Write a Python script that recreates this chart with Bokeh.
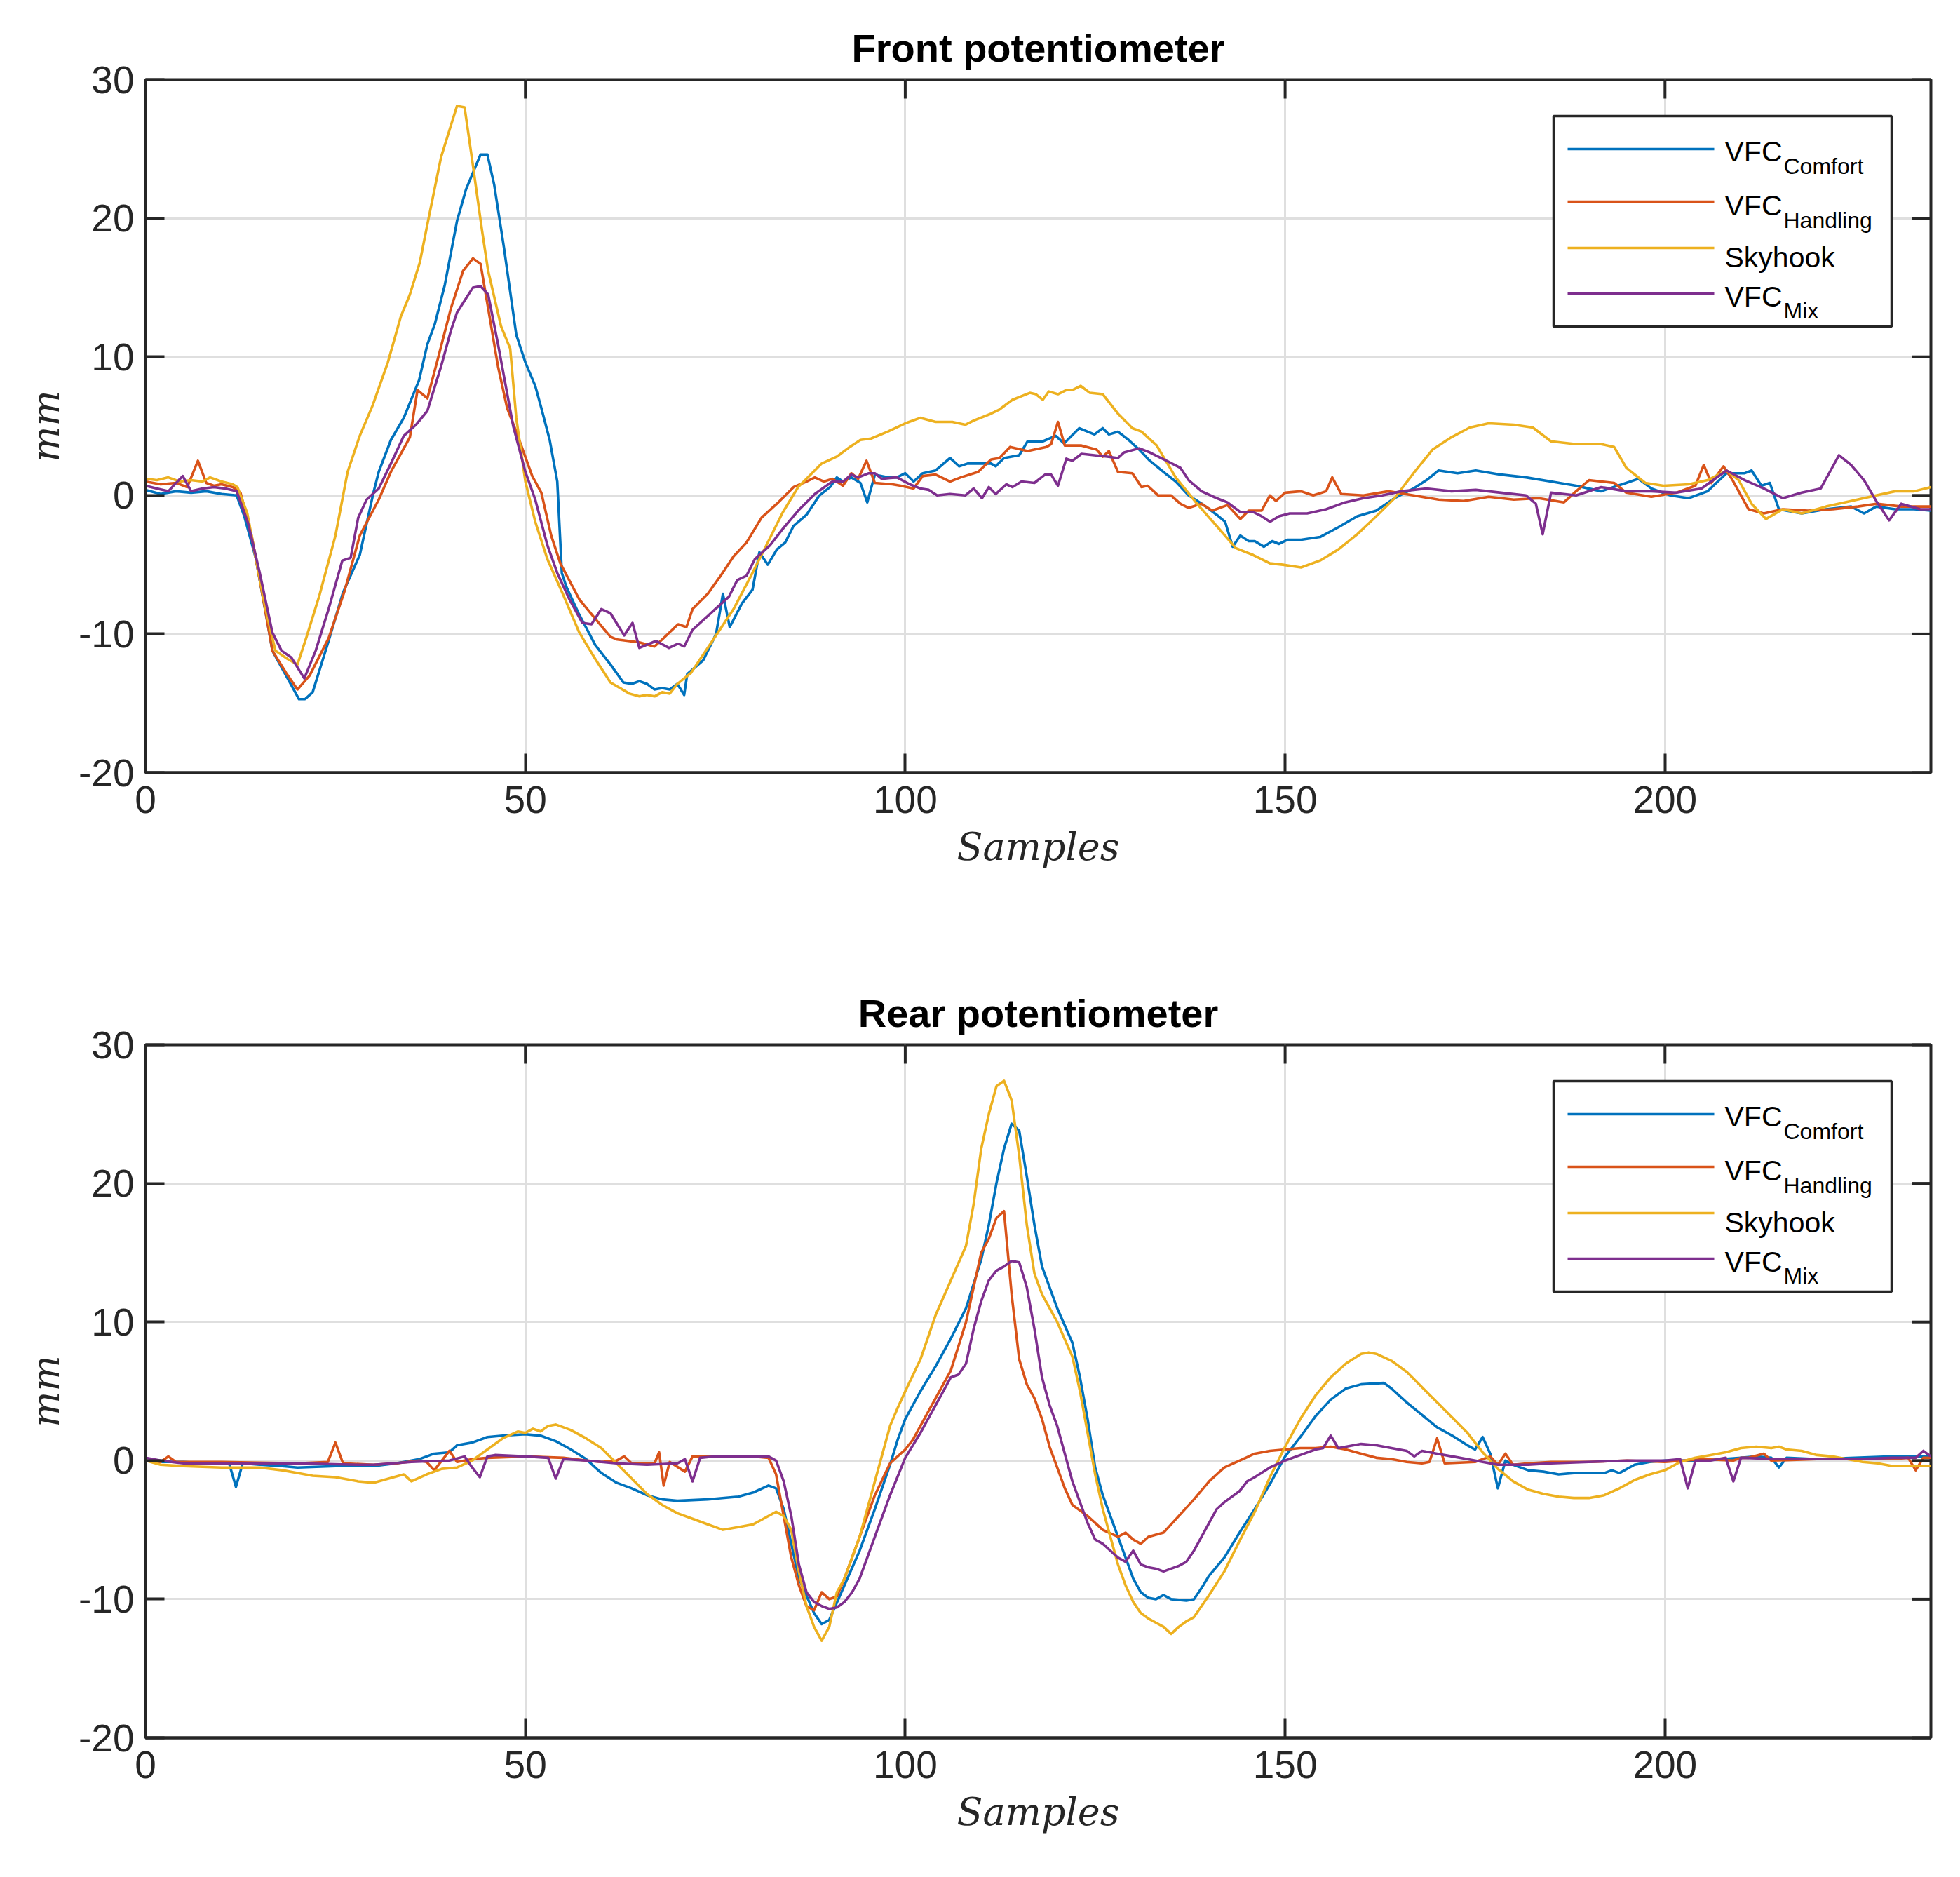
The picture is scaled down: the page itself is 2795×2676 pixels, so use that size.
from bokeh.plotting import figure
from bokeh.models import Range1d, FixedTicker, ColumnDataSource
from bokeh.layouts import column
from bokeh.embed import file_html
from bokeh.resources import INLINE
from bokeh.core.properties import value

# ---------------- data ----------------
series_names = ["VFC Comfort", "VFC Handling", "Skyhook", "VFC Mix"]
x_ticks = [0, 50, 100, 150, 200]
y_ticks = [-20, -10, 0, 10, 20, 30]

# Front potentiometer
front_comfort_x = [0, 2, 4, 6, 8, 10, 12, 13, 14.5, 16, 16.7, 18, 19.5, 20.2, 21, 22, 24.1, 26, 28.2, 30, 30.7, 32.3, 34, 36, 37.1, 38.1, 39.4, 41, 42.2, 44.1, 45, 45.9, 47.2, 48.8, 50, 51.3, 52.1, 53.2, 54.2, 54.8, 55.4, 57, 59.2, 61.2, 62.9, 64, 65, 66, 67, 68, 69, 70, 70.9, 71.3, 73.4, 75.1, 76, 76.9, 78.5, 79.9, 80.8, 81.9, 83.1, 84.2, 85.3, 87, 88.7, 90.1, 91, 91.8, 92.9, 94.1, 95, 96, 97.7, 98.9, 100, 101.1, 102.3, 104, 105.9, 107.1, 108.2, 111.3, 111.9, 113, 115, 116.1, 118.1, 119.8, 120.9, 122.9, 124.9, 126, 126.8, 128, 129.4, 130.8, 132.2, 134.2, 135.6, 137.3, 139.3, 141, 142.1, 143.1, 144.1, 145.2, 146, 147.2, 148.3, 149.2, 150.3, 152.1, 154.6, 157, 159.5, 162, 164.4, 166.9, 168.6, 170.2, 172.7, 175.1, 178.4, 181.7, 185, 188.3, 191.6, 194.9, 196.5, 198.2, 200.7, 203.1, 205.6, 208.1, 210.5, 211.4, 212.7, 213.8, 215, 218, 221.2, 224.5, 226.2, 227.8, 230.3, 232.8, 235]
front_comfort_y = [0.4, 0.1, 0.3, 0.2, 0.3, 0.1, 0.0, -1.5, -4.5, -9.0, -11.2, -12.5, -14.0, -14.7, -14.7, -14.2, -10.5, -7.0, -4.3, 0.2, 1.7, 4.0, 5.6, 8.3, 10.9, 12.4, 15.2, 19.8, 22.1, 24.6, 24.6, 22.4, 17.8, 11.6, 9.6, 7.9, 6.3, 4.0, 1.0, -5.6, -6.6, -8.5, -10.8, -12.2, -13.5, -13.6, -13.4, -13.6, -14.0, -13.9, -14.0, -13.6, -14.4, -12.9, -11.9, -10.0, -7.1, -9.5, -7.8, -6.8, -4.1, -5.0, -3.9, -3.4, -2.2, -1.4, 0.0, 0.6, 1.3, 1.0, 1.3, 0.9, -0.5, 1.5, 1.3, 1.3, 1.6, 1.0, 1.6, 1.8, 2.7, 2.1, 2.3, 2.3, 2.1, 2.7, 2.9, 3.9, 3.9, 4.3, 3.75, 4.85, 4.4, 4.85, 4.4, 4.6, 4.0, 3.3, 2.5, 1.6, 1.0, 0.0, -0.7, -1.4, -1.9, -3.7, -2.9, -3.3, -3.3, -3.7, -3.3, -3.5, -3.2, -3.2, -3.0, -2.3, -1.5, -1.1, -0.2, 0.5, 1.1, 1.8, 1.6, 1.8, 1.5, 1.3, 1.0, 0.7, 0.3, 0.9, 1.2, 0.5, 0.0, -0.2, 0.3, 1.6, 1.6, 1.8, 0.7, 0.9, -1.0, -1.3, -1.0, -0.8, -1.3, -0.8, -1.0, -1.0, -1.1]

front_handling_x = [0, 2, 4, 5.5, 6.9, 8, 9, 10, 11.5, 12.5, 14, 15.5, 16.7, 18.5, 20, 21.6, 24.1, 26.2, 28.2, 30.7, 32.3, 34.8, 35.8, 37.1, 38.5, 40.2, 41.8, 43.1, 44.1, 45.1, 46.4, 47.6, 48.8, 50.9, 52.1, 53.4, 54.6, 57.1, 59.2, 61.2, 62.1, 65, 67, 67.8, 70.1, 71.2, 72, 74, 75.7, 77.4, 79.1, 81.1, 83.1, 85.3, 87, 88.1, 89.3, 90.4, 91.8, 92.9, 93.8, 94.9, 96, 98.3, 99.4, 101.1, 102.3, 104, 105.9, 107.3, 109.6, 111.3, 112.4, 113.8, 116.1, 118.6, 119.2, 120.1, 121, 123.2, 125.2, 126, 126.8, 128, 129.9, 131.1, 131.9, 133.3, 135, 136.2, 137.3, 139, 140.4, 142.4, 144.1, 145.2, 146.9, 148, 148.8, 150, 152.1, 153.7, 155.4, 156.2, 157.4, 160.3, 163.6, 166.9, 170.2, 173.5, 176.8, 180.1, 183.4, 186.7, 188.3, 190, 193.3, 194.9, 198.2, 201.5, 204, 205.1, 206.1, 207.7, 208.9, 211, 213, 215.5, 218.8, 222.1, 225.4, 227.8, 231.1, 235]
front_handling_y = [1.0, 0.8, 0.9, 0.6, 2.5, 0.9, 0.7, 0.8, 0.6, 0.2, -3.0, -7.5, -11.2, -12.8, -14.0, -13.0, -10.3, -6.9, -2.9, -0.3, 1.7, 4.2, 7.6, 7.0, 9.9, 13.5, 16.2, 17.1, 16.7, 13.5, 9.3, 6.3, 4.6, 1.4, 0.2, -2.9, -4.9, -7.5, -8.9, -10.2, -10.4, -10.6, -10.9, -10.5, -9.3, -9.5, -8.2, -7.1, -5.8, -4.4, -3.4, -1.6, -0.6, 0.6, 1.0, 1.3, 1.0, 1.2, 0.7, 1.6, 1.2, 2.5, 0.9, 0.8, 0.7, 0.5, 1.4, 1.5, 1.0, 1.3, 1.7, 2.6, 2.7, 3.5, 3.2, 3.5, 3.7, 5.3, 3.6, 3.6, 3.3, 2.8, 3.2, 1.7, 1.6, 0.6, 0.7, 0.0, 0.0, -0.6, -0.9, -0.6, -1.1, -0.7, -1.7, -1.1, -1.1, 0.0, -0.4, 0.2, 0.3, 0.0, 0.3, 1.3, 0.1, 0.0, 0.3, 0.0, -0.3, -0.4, -0.1, -0.3, -0.2, -0.5, 0.3, 1.1, 0.9, 0.2, -0.1, 0.2, 0.7, 2.2, 0.9, 2.1, 1.1, -1.0, -1.3, -1.0, -1.1, -1.0, -0.8, -0.6, -0.8, -0.8]

front_skyhook_x = [0, 1.5, 3, 4.5, 6, 7.5, 8.5, 10, 11.5, 12.1, 13.4, 15.8, 17.1, 18.7, 20, 21.2, 22.9, 25, 26.6, 28.2, 29.9, 31.9, 33.6, 34.8, 36.1, 37.3, 38.9, 40.2, 41, 42, 43.1, 44.3, 45.1, 46.8, 48, 48.8, 50, 51.3, 52.9, 55, 57.1, 59.2, 61.2, 63.7, 65, 66, 67, 68, 69, 70, 71.8, 75.1, 77.4, 79.7, 81.9, 83.9, 85.9, 89, 91, 92.7, 94.1, 95.5, 97.7, 100, 102, 104, 106.2, 107.9, 109, 111.3, 112.4, 114.1, 116.4, 117.2, 118.1, 118.9, 120.1, 121.2, 122, 123.1, 124.3, 126, 128, 129.9, 131.1, 133.1, 135.6, 138.4, 141.3, 143.5, 145.8, 148, 149.7, 152.1, 154.6, 157, 159.5, 162, 164.4, 166.9, 169.4, 171.9, 174.3, 176.8, 180.1, 182.6, 185, 188.3, 191.6, 193.3, 194.9, 197.4, 199.8, 203.1, 205.6, 208.1, 209.7, 211.4, 213.3, 215.5, 218, 221.2, 224.5, 227.8, 230.3, 232.8, 235]
front_skyhook_y = [1.2, 1.1, 1.3, 1.0, 1.1, 1.0, 1.3, 1.0, 0.8, 0.6, -1.3, -8.2, -11.2, -11.8, -12.2, -10.2, -7.2, -2.9, 1.7, 4.3, 6.5, 9.6, 12.9, 14.5, 16.8, 20.1, 24.4, 26.7, 28.1, 28.0, 23.8, 19.1, 16.2, 12.2, 10.6, 5.6, 1.0, -1.9, -4.6, -7.2, -9.9, -11.8, -13.5, -14.3, -14.5, -14.4, -14.5, -14.2, -14.3, -13.6, -12.8, -10.1, -8.2, -5.8, -3.4, -1.2, 0.6, 2.3, 2.8, 3.5, 4.0, 4.1, 4.6, 5.2, 5.6, 5.3, 5.3, 5.1, 5.4, 5.9, 6.2, 6.9, 7.4, 7.3, 6.9, 7.5, 7.3, 7.6, 7.6, 7.9, 7.4, 7.3, 5.9, 4.85, 4.6, 3.6, 1.3, -0.6, -2.4, -3.8, -4.3, -4.9, -5.0, -5.2, -4.7, -3.9, -2.8, -1.5, -0.2, 1.6, 3.3, 4.2, 4.9, 5.2, 5.1, 4.9, 3.9, 3.7, 3.7, 3.5, 2.0, 0.9, 0.7, 0.8, 1.1, 1.8, 1.1, -0.6, -1.7, -1.0, -1.3, -0.8, -0.4, 0.0, 0.3, 0.3, 0.6]

front_mix_x = [0, 1.5, 3, 4.9, 6, 7.5, 9, 10.5, 12, 13.5, 15, 16.7, 17.9, 19.2, 20.9, 22.4, 24.1, 25.9, 27, 28, 29.1, 30.7, 32.3, 34, 35.6, 37.1, 38.9, 40.2, 41, 43.1, 44.1, 45.1, 46.4, 48.4, 50, 51.3, 52.9, 54.2, 55.8, 57.5, 58.7, 60, 61.2, 62.1, 63, 64.1, 65, 67.2, 68.9, 70.1, 70.9, 72, 74, 76.8, 77.9, 79.1, 80.2, 82.2, 83.9, 85.9, 88.1, 90.4, 91.8, 92.9, 93.8, 95.2, 96, 96.9, 98.9, 100.6, 102, 103.1, 104.2, 105.9, 107.9, 109, 110.1, 111, 111.9, 113.3, 114.1, 115.3, 117, 118.4, 119.2, 120.1, 121.2, 122, 123.2, 124.9, 126.6, 128, 128.8, 130.8, 132.2, 134.4, 136.2, 137.3, 139, 141, 142.4, 144.1, 145.8, 146.9, 148, 149.2, 150.6, 152.9, 155.4, 157.9, 160.3, 162.8, 165.3, 168.6, 171.9, 175.1, 178.4, 181.7, 183, 183.9, 185, 188.3, 191.6, 194.9, 198.2, 201.5, 204.8, 208.1, 210.5, 213, 215.5, 218, 220.5, 222.9, 224.5, 226.2, 227.8, 229.5, 231.1, 233.6, 235]
front_mix_y = [0.7, 0.5, 0.3, 1.4, 0.3, 0.5, 0.6, 0.5, 0.3, -2.0, -5.5, -9.9, -11.2, -11.7, -13.2, -11.2, -8.2, -4.7, -4.5, -1.6, -0.3, 0.5, 2.3, 4.3, 5.1, 6.1, 9.3, 11.9, 13.2, 15.0, 15.1, 14.5, 10.9, 5.0, 1.7, -0.3, -3.6, -5.6, -7.5, -9.2, -9.3, -8.2, -8.5, -9.3, -10.1, -9.2, -11.0, -10.5, -11.0, -10.7, -10.9, -9.7, -8.7, -7.3, -6.1, -5.8, -4.6, -3.6, -2.4, -1.1, 0.1, 1.0, 1.0, 1.5, 1.3, 1.6, 1.6, 1.2, 1.3, 0.8, 0.5, 0.4, 0.0, 0.1, 0.0, 0.5, -0.2, 0.6, 0.1, 0.8, 0.6, 1.0, 0.9, 1.5, 1.5, 0.7, 2.65, 2.5, 3.0, 2.9, 2.8, 2.7, 3.1, 3.4, 3.1, 2.5, 2.0, 1.1, 0.3, -0.2, -0.5, -1.2, -1.2, -1.5, -1.9, -1.5, -1.3, -1.3, -1.0, -0.5, -0.2, 0.0, 0.3, 0.5, 0.3, 0.4, 0.2, 0.0, -0.6, -2.8, 0.2, 0.0, 0.6, 0.3, 0.3, 0.2, 0.5, 1.8, 1.1, 0.5, -0.2, 0.2, 0.5, 2.9, 2.2, 1.1, -0.4, -1.8, -0.6, -1.0, -1.0]

# Rear potentiometer
rear_comfort_x = [0, 2, 5, 8, 10, 11, 11.9, 12.8, 15, 18, 20, 25, 30, 33, 36, 38, 40, 41, 43, 45, 47, 50, 52, 54, 56, 58, 60, 62, 64, 66, 68, 70, 74, 78, 80, 82, 83, 84, 85, 86, 88, 89, 90, 92, 94, 96, 98, 99, 100, 102, 104, 106, 108, 110, 111, 112, 113, 114, 115, 116, 117, 118, 120, 122, 123, 124, 125, 126, 127, 128, 129, 130, 131, 132, 133, 134, 135, 137, 138, 139, 140, 142, 144, 146, 148, 150, 152, 154, 156, 158, 160, 163, 164, 166, 168, 170, 172, 174, 175, 176, 177, 178, 179, 180, 182, 184, 186, 188, 190, 192, 193, 194, 196, 198, 200, 205, 210, 212, 214, 215, 216, 220, 225, 230, 235]
rear_comfort_y = [0.0, -0.1, -0.1, -0.2, -0.2, -0.2, -1.9, -0.2, -0.3, -0.4, -0.5, -0.4, -0.4, -0.2, 0.1, 0.5, 0.6, 1.1, 1.3, 1.7, 1.8, 1.9, 1.8, 1.4, 0.8, 0.1, -0.9, -1.6, -2.0, -2.5, -2.8, -2.9, -2.8, -2.6, -2.3, -1.8, -2.0, -3.5, -6.0, -8.5, -11.0, -11.8, -11.5, -9.0, -6.5, -3.5, -0.3, 1.5, 3.0, 5.0, 6.8, 8.8, 11.0, 14.5, 17.0, 20.0, 22.5, 24.3, 23.8, 20.5, 17.0, 14.0, 11.0, 8.5, 6.0, 3.0, -0.5, -2.5, -4.0, -5.5, -7.0, -8.5, -9.5, -9.9, -10.0, -9.7, -10.0, -10.1, -10.0, -9.2, -8.3, -7.0, -5.2, -3.5, -1.7, 0.3, 1.7, 3.2, 4.4, 5.2, 5.5, 5.6, 5.2, 4.2, 3.3, 2.4, 1.8, 1.1, 0.8, 1.7, 0.5, -2.0, 0.0, -0.3, -0.7, -0.8, -1.0, -0.9, -0.9, -0.9, -0.7, -0.9, -0.3, -0.1, 0.0, 0.0, 0.2, 0.3, 0.2, -0.5, 0.2, 0.1, 0.2, 0.3, 0.3]

rear_handling_x = [0, 2, 3, 4, 10, 20, 24, 25, 26, 30, 33, 36, 37, 38, 39, 40, 41, 43, 45, 50, 55, 58, 60, 62, 63, 64, 67, 67.6, 68.2, 69, 71, 72, 75, 80, 82, 83, 84, 85, 86, 87, 88, 89, 90, 91, 92, 94, 96, 98, 100, 101, 102, 104, 106, 108, 110, 111, 112, 113, 114, 115, 116, 117, 118, 119, 120, 121, 122, 124, 126, 128, 129, 130, 131, 132, 134, 136, 138, 140, 142, 144, 146, 148, 150, 152, 154, 156, 158, 160, 162, 164, 166, 168, 169, 170, 171, 175, 177, 178, 179, 180, 182, 185, 190, 195, 200, 205, 209, 210, 211, 213, 214, 220, 225, 230, 232, 233, 234, 235]
rear_handling_y = [0.0, -0.1, 0.3, -0.1, -0.1, -0.2, -0.1, 1.3, -0.2, -0.3, -0.2, 0.0, -0.1, -0.7, 0.0, 0.7, -0.1, 0.1, 0.2, 0.3, 0.2, 0.0, -0.1, 0.0, 0.3, -0.2, -0.2, 0.6, -1.8, -0.1, -0.8, 0.3, 0.3, 0.3, 0.2, -1.0, -4.0, -7.0, -9.0, -10.5, -10.8, -9.5, -10.0, -9.8, -8.5, -5.5, -2.5, -0.2, 0.8, 1.5, 2.5, 4.5, 6.5, 10.0, 15.0, 16.0, 17.5, 18.0, 12.0, 7.3, 5.5, 4.5, 3.0, 1.0, -0.5, -2.0, -3.2, -4.0, -5.0, -5.5, -5.2, -5.7, -6.0, -5.5, -5.2, -4.0, -2.8, -1.5, -0.5, 0.0, 0.5, 0.7, 0.8, 0.9, 0.9, 1.0, 0.8, 0.5, 0.2, 0.1, -0.1, -0.2, -0.1, 1.6, -0.2, -0.1, 0.3, -0.3, 0.5, -0.3, -0.2, -0.1, -0.1, 0.0, -0.1, 0.1, 0.0, 0.2, 0.2, 0.5, 0.0, 0.1, 0.1, 0.1, 0.2, -0.7, 0.2, 0.2]

rear_skyhook_x = [0, 2, 5, 10, 15, 18, 20, 22, 25, 28, 30, 32, 34, 35, 37, 39, 41, 43, 45, 47, 49, 50, 51, 52, 53, 54, 56, 58, 60, 62, 64, 66, 68, 70, 72, 74, 76, 78, 80, 81, 83, 84, 85, 86, 87, 88, 89, 90, 91, 92, 94, 96, 97, 98, 99, 100, 102, 104, 106, 108, 109, 110, 111, 112, 113, 114, 115, 116, 117, 118, 120, 122, 123, 124, 125, 126, 127, 128, 129, 130, 131, 132, 133, 134, 135, 136, 137, 138, 139, 140, 142, 144, 146, 148, 150, 152, 154, 156, 158, 160, 161, 162, 164, 166, 168, 170, 172, 174, 176, 178, 180, 182, 184, 186, 188, 190, 192, 194, 196, 198, 200, 202, 204, 206, 208, 210, 212, 214, 215, 216, 218, 220, 222, 224, 226, 228, 230, 232, 235]
rear_skyhook_y = [0.0, -0.3, -0.4, -0.5, -0.5, -0.7, -0.9, -1.1, -1.2, -1.5, -1.6, -1.3, -1.0, -1.5, -1.0, -0.6, -0.5, 0.0, 0.8, 1.6, 2.1, 2.0, 2.3, 2.1, 2.5, 2.6, 2.2, 1.6, 0.9, -0.2, -1.3, -2.4, -3.2, -3.8, -4.2, -4.6, -5.0, -4.8, -4.6, -4.3, -3.7, -4.0, -5.0, -8.0, -10.5, -12.0, -13.0, -12.0, -9.5, -8.5, -5.5, -1.5, 0.5, 2.5, 3.8, 5.0, 7.3, 10.5, 13.0, 15.5, 18.5, 22.5, 25.0, 27.0, 27.4, 26.0, 22.0, 17.0, 13.5, 12.0, 10.0, 7.5, 5.0, 2.0, -1.0, -3.5, -5.5, -7.5, -9.0, -10.2, -11.0, -11.4, -11.7, -12.0, -12.5, -12.0, -11.6, -11.3, -10.5, -9.7, -8.0, -5.8, -3.7, -1.2, 1.0, 3.0, 4.7, 6.0, 7.0, 7.7, 7.8, 7.7, 7.2, 6.4, 5.3, 4.2, 3.1, 2.0, 0.6, -0.6, -1.5, -2.1, -2.4, -2.6, -2.7, -2.7, -2.5, -2.0, -1.4, -1.0, -0.7, -0.1, 0.2, 0.4, 0.6, 0.9, 1.0, 0.9, 1.0, 0.8, 0.7, 0.4, 0.3, 0.1, -0.1, -0.2, -0.4, -0.4, -0.4]

rear_mix_x = [0, 2, 5, 10, 20, 28, 30, 35, 40, 42, 43, 44, 45, 46, 50, 53, 54, 55, 58, 62, 66, 70, 71, 72, 73, 75, 80, 82, 83, 84, 85, 86, 87, 88, 89, 90, 91, 92, 93, 94, 96, 98, 100, 102, 104, 106, 107, 108, 109, 110, 111, 112, 113, 114, 115, 116, 117, 118, 119, 120, 121, 122, 123, 124, 125, 126, 127, 128, 129, 130, 131, 132, 133, 134, 135, 136, 137, 138, 139, 140, 141, 142, 144, 145, 146, 148, 150, 152, 154, 155, 156, 157, 158, 160, 162, 164, 166, 167, 168, 170, 172, 174, 176, 178, 180, 182, 185, 190, 195, 200, 202, 203, 204, 206, 208, 209, 210, 215, 220, 225, 230, 233, 234, 235]
rear_mix_y = [0.2, 0.0, -0.2, -0.2, -0.2, -0.3, -0.3, -0.1, 0.0, 0.3, -0.5, -1.2, 0.3, 0.4, 0.3, 0.2, -1.3, 0.1, 0.0, -0.2, -0.3, -0.2, 0.1, -1.5, 0.2, 0.3, 0.3, 0.3, 0.0, -1.5, -4.0, -7.5, -9.5, -10.2, -10.5, -10.7, -10.6, -10.2, -9.5, -8.5, -5.5, -2.5, 0.2, 2.0, 4.0, 6.0, 6.2, 7.0, 9.5, 11.5, 13.0, 13.7, 14.0, 14.4, 14.3, 12.5, 9.5, 6.0, 4.0, 2.5, 0.5, -1.5, -3.0, -4.5, -5.7, -6.0, -6.5, -7.0, -7.3, -6.5, -7.5, -7.7, -7.8, -8.0, -7.8, -7.6, -7.3, -6.5, -5.5, -4.5, -3.5, -3.0, -2.2, -1.5, -1.2, -0.5, 0.0, 0.4, 0.8, 0.9, 1.8, 0.9, 1.0, 1.2, 1.1, 0.9, 0.7, 0.3, 0.7, 0.5, 0.3, 0.1, -0.1, -0.3, -0.3, -0.3, -0.2, -0.1, 0.0, 0.0, 0.1, -2.0, 0.0, 0.0, 0.2, -1.5, 0.2, 0.1, 0.1, 0.1, 0.2, 0.2, 0.7, 0.3]

colors = ["#0072BD", "#D95319", "#EDB120", "#7E2F8E"]

# ---------------- layout constants ----------------
FRAME_W, FRAME_H = 2546, 988
X_MIN, X_MAX, Y_MIN, Y_MAX = 0, 235, -20, 30
AX_COLOR = "#262626"
TICK_LEN = 27


def px_x(px):
    """reference-pixel x -> data x"""
    return X_MIN + (px - 207) / FRAME_W * (X_MAX - X_MIN)


def rel_y(r):
    """pixels below the frame top -> data y"""
    return Y_MAX - r / FRAME_H * (Y_MAX - Y_MIN)


def style_axis(ax, ticks, standoff):
    ax.ticker = FixedTicker(ticks=ticks)
    ax.major_label_overrides = {t: str(t) for t in ticks}
    ax.axis_line_color = AX_COLOR
    ax.axis_line_width = 4
    ax.major_tick_line_color = AX_COLOR
    ax.major_tick_line_width = 4
    ax.major_tick_in = TICK_LEN
    ax.major_tick_out = 0
    ax.minor_tick_line_color = None
    ax.major_label_text_font = "Liberation Sans"
    ax.major_label_text_color = AX_COLOR
    ax.major_label_text_font_size = "55px"
    ax.major_label_standoff = standoff
    ax.axis_label_text_font = "DejaVu Serif"
    ax.axis_label_text_font_style = "italic"
    ax.axis_label_text_font_size = "54px"
    ax.axis_label_text_color = AX_COLOR


def make_panel(title, xs, ys, top_border, bottom_border):
    p = figure(frame_width=FRAME_W, frame_height=FRAME_H,
               x_range=Range1d(X_MIN, X_MAX), y_range=Range1d(Y_MIN, Y_MAX),
               output_backend="svg", toolbar_location=None,
               min_border_left=207, min_border_right=20,
               min_border_top=top_border, min_border_bottom=bottom_border,
               background_fill_color="white", border_fill_color="white")
    p.outline_line_color = AX_COLOR
    p.outline_line_width = 4

    xax = p.below[0]
    yax = p.left[0]
    style_axis(xax, x_ticks, 19)
    style_axis(yax, y_ticks, 16)
    xax.axis_label = "Samples"
    xax.axis_label_standoff = 14
    yax.axis_label = "mm"
    yax.axis_label_standoff = 12

    p.title.text = title
    p.title.align = "center"
    p.title.text_font = "Liberation Sans"
    p.title.text_font_style = "bold"
    p.title.text_font_size = "56px"
    p.title.text_color = "black"
    p.title.standoff = 27

    p.xgrid.ticker = FixedTicker(ticks=x_ticks)
    p.ygrid.ticker = FixedTicker(ticks=y_ticks)
    for g in (p.xgrid, p.ygrid):
        g.grid_line_color = "#dfdfdf"
        g.grid_line_width = 3

    for x, y, c in zip(xs, ys, colors):
        p.line(x, y, line_color=c, line_width=3.6, line_join="round")

    # inward ticks on the top and right edges (MATLAB box style)
    dy = TICK_LEN / FRAME_H * (Y_MAX - Y_MIN)
    dx = TICK_LEN / FRAME_W * (X_MAX - X_MIN)
    top_t = p.segment(x0=x_ticks, x1=x_ticks, y0=[Y_MAX] * len(x_ticks),
                      y1=[Y_MAX - dy] * len(x_ticks), line_color=AX_COLOR, line_width=4)
    right_t = p.segment(x0=[X_MAX] * len(y_ticks), x1=[X_MAX - dx] * len(y_ticks),
                        y0=y_ticks, y1=y_ticks, line_color=AX_COLOR, line_width=4)
    top_t.level = "overlay"
    right_t.level = "overlay"

    # legend (MATLAB-style, with subscripts)
    box = p.quad(left=[px_x(2215)], right=[px_x(2697)], top=[rel_y(52)], bottom=[rel_y(352)],
                 fill_color="white", line_color=AX_COLOR, line_width=3.5)
    box.level = "overlay"
    leg_y = [rel_y(r) for r in (99, 174, 240, 305)]
    seg = p.segment(x0=[px_x(2235)] * 4, x1=[px_x(2444)] * 4, y0=leg_y, y1=leg_y,
                    line_color=colors, line_width=3.6)
    seg.level = "overlay"
    main_src = ColumnDataSource(dict(x=[px_x(2459)] * 4,
                                     y=[rel_y(r) for r in (102, 179, 253, 309)],
                                     t=["VFC", "VFC", "Skyhook", "VFC"]))
    t1 = p.text(x="x", y="y", text="t", source=main_src, text_font=value("Liberation Sans"),
                text_font_size="41px", text_baseline="alphabetic", text_align="left",
                text_color="black")
    t1.level = "overlay"
    sub_src = ColumnDataSource(dict(x=[px_x(2543)] * 3,
                                    y=[rel_y(r) for r in (123, 200, 329)],
                                    t=["Comfort", "Handling", "Mix"]))
    t2 = p.text(x="x", y="y", text="t", source=sub_src, text_font=value("Liberation Sans"),
                text_font_size="32px", text_baseline="alphabetic", text_align="left",
                text_color="black")
    t2.level = "overlay"
    return p


p1 = make_panel("Front potentiometer",
                [front_comfort_x, front_handling_x, front_skyhook_x, front_mix_x],
                [front_comfort_y, front_handling_y, front_skyhook_y, front_mix_y],
                113, 180)
p2 = make_panel("Rear potentiometer",
                [rear_comfort_x, rear_handling_x, rear_skyhook_x, rear_mix_x],
                [rear_comfort_y, rear_handling_y, rear_skyhook_y, rear_mix_y],
                208, 180)

layout = column(p1, p2, spacing=0)
open("out.html", "w").write(file_html(layout, INLINE))
